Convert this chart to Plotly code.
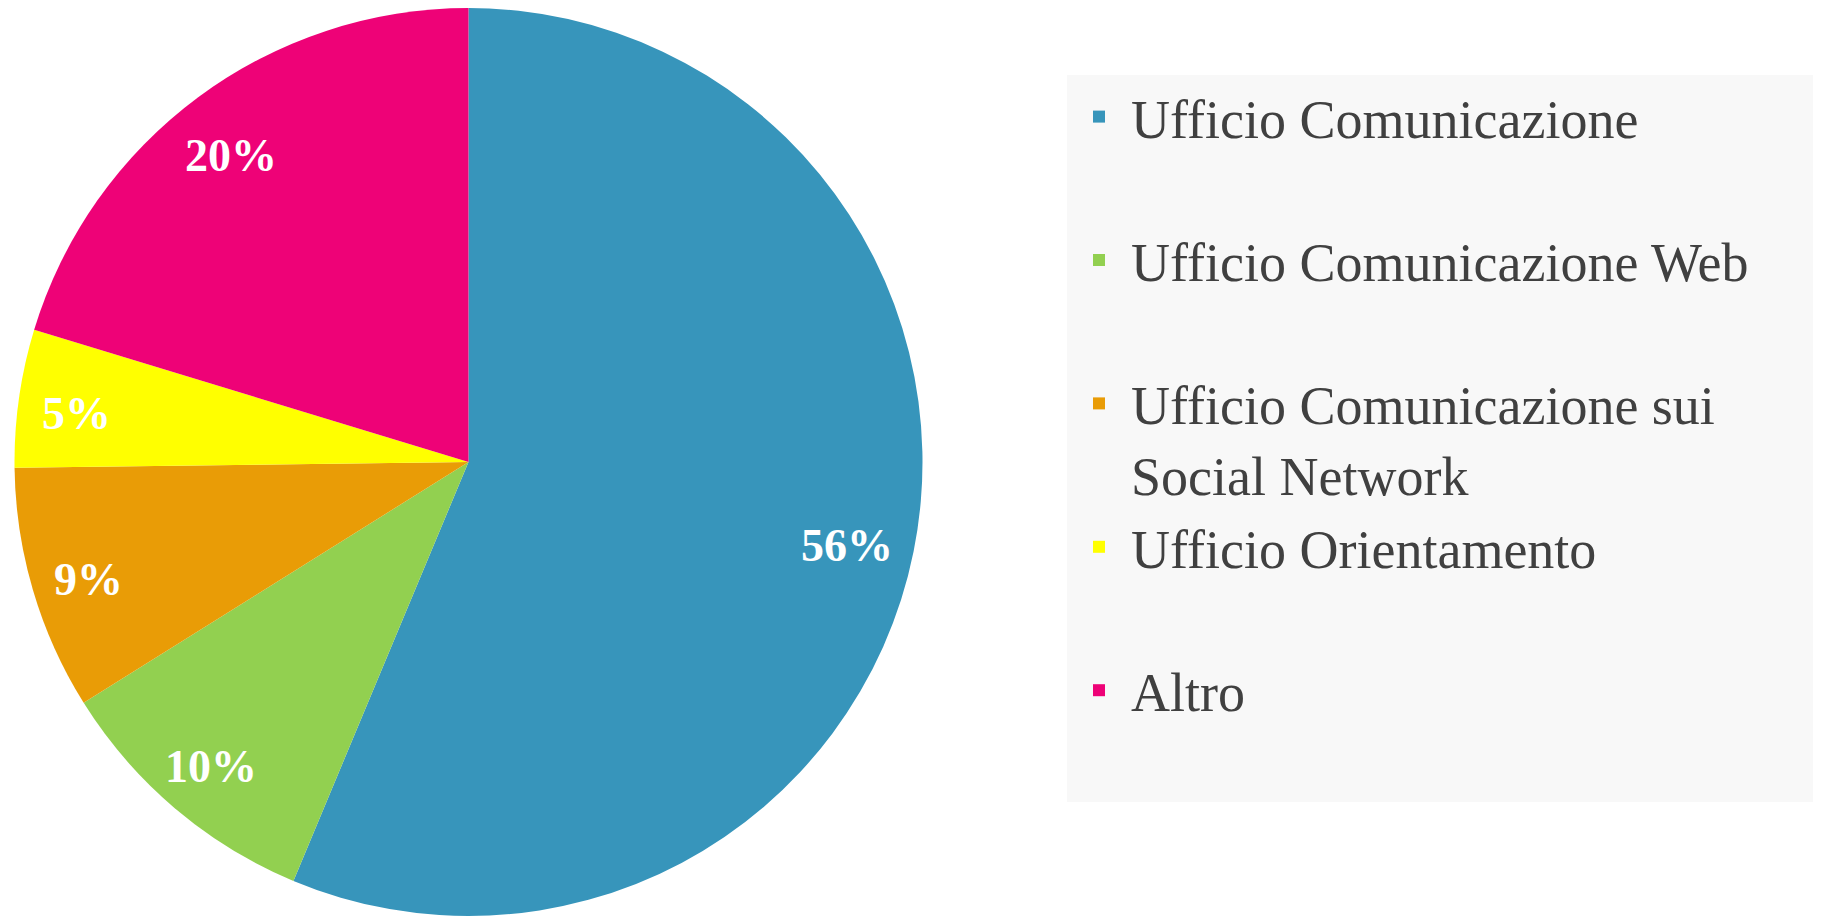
import math
import plotly.graph_objects as go

# Data
labels = [
    "Ufficio Comunicazione",
    "Ufficio Comunicazione Web",
    "Ufficio Comunicazione sui<br>Social Network",
    "Ufficio Orientamento",
    "Altro",
]
values = [56.3, 9.8, 8.7, 4.9, 20.3]
colors = ["#3795BB", "#92D050", "#E99C06", "#FFFF00", "#EE0277"]

# pad every legend entry to two lines so all entries share the same slot height
legend_labels = [l if "<br>" in l else l + "<br>\u00a0" for l in labels]
legend_labels[1] = legend_labels[1].replace("Web", "Web" + "\u00a0" * 5)

W, H = 1821, 917
OFF = 8  # default page body margin
dom_x = [(14 - OFF) / W, (923 - OFF) / W]
dom_y = [(H - (916 - OFF)) / H, (H - (8 - OFF)) / H]

fig = go.Figure(
    go.Pie(
        labels=legend_labels,
        values=values,
        sort=False,
        direction="clockwise",
        rotation=0,
        marker=dict(colors=colors, line=dict(width=0)),
        textinfo="none",
        hoverinfo="label+percent",
        domain=dict(x=dom_x, y=dom_y),
    )
)

# percentage labels placed on hidden axes that share the pie's domain
total = sum(values)
cum = 0.0
for v in values:
    mid = (cum + v / 2) / total * 2 * math.pi
    cum += v
    r = 0.86
    fig.add_annotation(
        x=r * math.sin(mid),
        y=r * math.cos(mid),
        xref="x",
        yref="y",
        text=f"{round(v / total * 100)}%",
        showarrow=False,
        font=dict(family="Liberation Serif", size=46, color="white", weight="bold"),
        xanchor="center",
        yanchor="middle",
        xshift=-5,
        yshift=-7,
    )

fig.update_layout(
    width=W,
    height=H,
    margin=dict(l=0, r=0, t=0, b=0),
    paper_bgcolor="white",
    plot_bgcolor="rgba(0,0,0,0)",
    showlegend=True,
    xaxis=dict(domain=dom_x, range=[-1, 1], visible=False, fixedrange=True),
    yaxis=dict(domain=dom_y, range=[-1, 1], visible=False, fixedrange=True),
    legend=dict(
        x=(1067 - OFF) / W,
        y=1 - (75 - OFF) / H,
        xanchor="left",
        yanchor="top",
        bgcolor="#F8F8F8",
        font=dict(family="Liberation Serif", size=54, color="#404040"),
        valign="top",
        itemwidth=54,
        traceorder="normal",
    ),
)

fig.write_html("out.html")
